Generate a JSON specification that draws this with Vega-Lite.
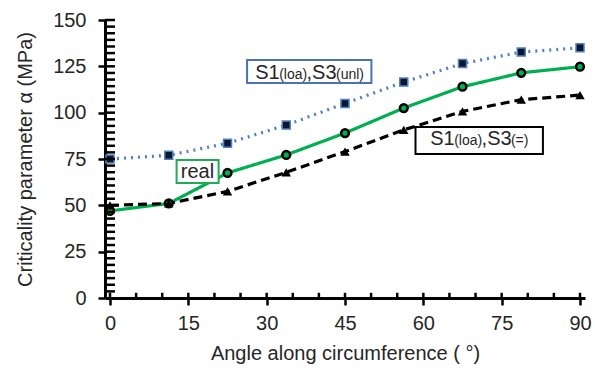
{
  "$schema": "https://vega.github.io/schema/vega-lite/v6.json",
  "width": 480,
  "height": 278,
  "autosize": {"type": "none"},
  "padding": {"left": 105, "top": 20, "right": 10, "bottom": 72},
  "background": "white",
  "config": {
    "font": "Liberation Sans",
    "view": {"stroke": null},
    "axis": {"grid": false}
  },
  "datasets": {
    "series": [
      {"angle": 0, "value": 75, "series": "S1(loa),S3(unl)"},
      {"angle": 11.25, "value": 77, "series": "S1(loa),S3(unl)"},
      {"angle": 22.5, "value": 83.5, "series": "S1(loa),S3(unl)"},
      {"angle": 33.75, "value": 93.3, "series": "S1(loa),S3(unl)"},
      {"angle": 45, "value": 105, "series": "S1(loa),S3(unl)"},
      {"angle": 56.25, "value": 116.5, "series": "S1(loa),S3(unl)"},
      {"angle": 67.5, "value": 126.5, "series": "S1(loa),S3(unl)"},
      {"angle": 78.75, "value": 132.7, "series": "S1(loa),S3(unl)"},
      {"angle": 90, "value": 135, "series": "S1(loa),S3(unl)"},
      {"angle": 0, "value": 47, "series": "real"},
      {"angle": 11.25, "value": 51, "series": "real"},
      {"angle": 22.5, "value": 67.5, "series": "real"},
      {"angle": 33.75, "value": 77.2, "series": "real"},
      {"angle": 45, "value": 89, "series": "real"},
      {"angle": 56.25, "value": 102.5, "series": "real"},
      {"angle": 67.5, "value": 114, "series": "real"},
      {"angle": 78.75, "value": 121.5, "series": "real"},
      {"angle": 90, "value": 124.8, "series": "real"},
      {"angle": 0, "value": 50, "series": "S1(loa),S3(=)"},
      {"angle": 11.25, "value": 51, "series": "S1(loa),S3(=)"},
      {"angle": 22.5, "value": 57.5, "series": "S1(loa),S3(=)"},
      {"angle": 33.75, "value": 67.8, "series": "S1(loa),S3(=)"},
      {"angle": 45, "value": 79, "series": "S1(loa),S3(=)"},
      {"angle": 56.25, "value": 90.7, "series": "S1(loa),S3(=)"},
      {"angle": 67.5, "value": 100.7, "series": "S1(loa),S3(=)"},
      {"angle": 78.75, "value": 107, "series": "S1(loa),S3(=)"},
      {"angle": 90, "value": 109.5, "series": "S1(loa),S3(=)"}
    ],
    "boxes": [
      {"series": "S1(loa),S3(unl)", "x0": 26.25, "x1": 50.06, "y0": 116, "y1": 128.4},
      {"series": "real", "x0": 12.75, "x1": 20.8, "y0": 62.1, "y1": 74.5},
      {"series": "S1(loa),S3(=)", "x0": 58.5, "x1": 82.9, "y0": 77.7, "y1": 92.3}
    ],
    "mainText": [
      {"t": "S1", "x": 27.8, "y": 118.4},
      {"t": ",S3", "x": 37.64, "y": 118.4},
      {"t": "S1", "x": 61.31, "y": 82.3},
      {"t": ",S3", "x": 71.16, "y": 82.3},
      {"t": "real", "x": 13.56, "y": 64.5}
    ],
    "subText": [
      {"t": "(loa)", "x": 32.39, "y": 118.4},
      {"t": "(unl)", "x": 43.27, "y": 118.4},
      {"t": "(loa)", "x": 65.91, "y": 82.3},
      {"t": "(=)", "x": 76.78, "y": 82.3}
    ],
    "ticksX": [
      {"a": 0}, {"a": 5}, {"a": 10}, {"a": 15}, {"a": 20}, {"a": 25}, {"a": 30}, {"a": 35}, {"a": 40}, {"a": 45},
      {"a": 50}, {"a": 55}, {"a": 60}, {"a": 65}, {"a": 70}, {"a": 75}, {"a": 80}, {"a": 85}, {"a": 90}
    ],
    "ticksY": [
      {"b": 3.571}, {"b": 7.143}, {"b": 10.714}, {"b": 14.286}, {"b": 17.857}, {"b": 21.429}, {"b": 25},
      {"b": 28.571}, {"b": 32.143}, {"b": 35.714}, {"b": 39.286}, {"b": 42.857}, {"b": 46.429}, {"b": 50},
      {"b": 53.571}, {"b": 57.143}, {"b": 60.714}, {"b": 64.286}, {"b": 67.857}, {"b": 71.429}, {"b": 75},
      {"b": 78.571}, {"b": 82.143}, {"b": 85.714}, {"b": 89.286}, {"b": 92.857}, {"b": 96.429}, {"b": 100},
      {"b": 103.571}, {"b": 107.143}, {"b": 110.714}, {"b": 114.286}, {"b": 117.857}, {"b": 121.429}, {"b": 125},
      {"b": 128.571}, {"b": 132.143}, {"b": 135.714}, {"b": 139.286}, {"b": 142.857}, {"b": 146.429}, {"b": 150}
    ]
  },
  "layer": [
    {
      "data": {"name": "series"},
      "mark": {"type": "line", "strokeWidth": 3.2},
      "encoding": {
        "x": {
          "field": "angle", "type": "quantitative",
          "scale": {"domain": [0, 90], "nice": false, "zero": false},
          "axis": {
            "orient": "bottom",
            "values": [0, 15, 30, 45, 60, 75, 90],
            "title": "Angle along circumference ( °)",
            "titleFontSize": 20, "titleFontWeight": "normal", "titleColor": "#262626", "titlePadding": 10,
            "labelFontSize": 20, "labelColor": "#262626", "labelPadding": 8, "labelFlush": false,
            "tickSize": 7, "tickWidth": 2.5, "tickColor": "black",
            "domainColor": "black", "domainWidth": 3
          }
        },
        "y": {
          "field": "value", "type": "quantitative",
          "scale": {"domain": [0, 150], "nice": false},
          "axis": {
            "orient": "left",
            "values": [0, 25, 50, 75, 100, 125, 150],
            "title": "Criticality parameter α (MPa)",
            "titleFontSize": 20, "titleFontWeight": "normal", "titleColor": "#262626", "titlePadding": 17,
            "labelFontSize": 20, "labelColor": "#262626", "labelPadding": 12, "labelFlush": false,
            "tickSize": 7, "tickWidth": 2.5, "tickColor": "black",
            "domainColor": "black", "domainWidth": 3
          }
        },
        "color": {
          "field": "series", "type": "nominal",
          "scale": {"domain": ["S1(loa),S3(unl)", "real", "S1(loa),S3(=)"], "range": ["#4f81bd", "#00b050", "#000000"]},
          "legend": null
        },
        "strokeDash": {
          "field": "series", "type": "nominal",
          "scale": {"domain": ["S1(loa),S3(unl)", "real", "S1(loa),S3(=)"], "range": [[2, 5], [1, 0], [9, 5]]},
          "legend": null
        }
      }
    },
    {
      "data": {"name": "series"},
      "transform": [{"filter": "datum.series === 'S1(loa),S3(unl)'"}],
      "mark": {"type": "point", "shape": "square", "filled": true, "fill": "#0d1530", "stroke": "#4f81bd", "strokeWidth": 1.5, "size": 64, "opacity": 1},
      "encoding": {
        "x": {"field": "angle", "type": "quantitative"},
        "y": {"field": "value", "type": "quantitative"}
      }
    },
    {
      "data": {"name": "series"},
      "transform": [{"filter": "datum.series === 'real'"}],
      "mark": {"type": "point", "shape": "circle", "filled": true, "fill": "#00b050", "stroke": "black", "strokeWidth": 2.5, "size": 60, "opacity": 1},
      "encoding": {
        "x": {"field": "angle", "type": "quantitative"},
        "y": {"field": "value", "type": "quantitative"}
      }
    },
    {
      "data": {"name": "series"},
      "transform": [{"filter": "datum.series === 'S1(loa),S3(=)'"}],
      "mark": {"type": "point", "shape": "triangle-up", "filled": true, "fill": "black", "size": 90, "opacity": 1},
      "encoding": {
        "x": {"field": "angle", "type": "quantitative"},
        "y": {"field": "value", "type": "quantitative"}
      }
    },
    {
      "data": {"name": "boxes"},
      "mark": {"type": "rect", "fill": "white", "strokeWidth": 2},
      "encoding": {
        "x": {"field": "x0", "type": "quantitative"},
        "x2": {"field": "x1"},
        "y": {"field": "y0", "type": "quantitative"},
        "y2": {"field": "y1"},
        "stroke": {
          "field": "series", "type": "nominal",
          "scale": {"domain": ["S1(loa),S3(unl)", "real", "S1(loa),S3(=)"], "range": ["#4a72b8", "#1faa55", "#000000"]},
          "legend": null
        }
      }
    },
    {
      "data": {"name": "mainText"},
      "mark": {"type": "text", "fontSize": 20, "align": "left", "baseline": "alphabetic", "color": "#262626"},
      "encoding": {
        "x": {"field": "x", "type": "quantitative"},
        "y": {"field": "y", "type": "quantitative"},
        "text": {"field": "t"}
      }
    },
    {
      "data": {"name": "subText"},
      "mark": {"type": "text", "fontSize": 14, "align": "left", "baseline": "alphabetic", "color": "#262626"},
      "encoding": {
        "x": {"field": "x", "type": "quantitative"},
        "y": {"field": "y", "type": "quantitative"},
        "text": {"field": "t"}
      }
    },
    {
      "data": {"name": "ticksX"},
      "mark": {"type": "bar", "color": "black", "size": 2.5, "opacity": 1},
      "encoding": {
        "x": {"field": "a", "type": "quantitative"},
        "y": {"datum": 0, "type": "quantitative"},
        "y2": {"datum": 2.8}
      }
    },
    {
      "data": {"name": "ticksY"},
      "mark": {"type": "tick", "orient": "horizontal", "color": "black", "thickness": 2.5, "size": 10, "opacity": 1},
      "encoding": {
        "y": {"field": "b", "type": "quantitative"},
        "x": {"datum": 0, "type": "quantitative"}
      }
    }
  ]
}
